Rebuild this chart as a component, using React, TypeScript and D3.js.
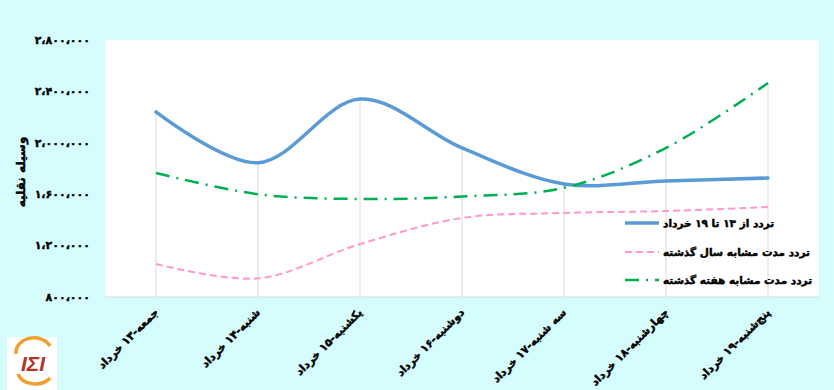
import * as d3 from 'd3';

// روزهای هفته (محور افقی)
const days = [
  'جمعه-۱۳ خرداد',
  'شنبه-۱۴ خرداد',
  'یکشنبه-۱۵ خرداد',
  'دوشنبه-۱۶ خرداد',
  'سه شنبه-۱۷ خرداد',
  'چهارشنبه-۱۸ خرداد',
  'پنج‌شنبه-۱۹ خرداد',
];

// تردد از ۱۳ تا ۱۹ خرداد
const thisWeek = [2240000, 1845000, 2340000, 1960000, 1680000, 1703000, 1726000];
// تردد مدت مشابه سال گذشته
const lastYear = [1057000, 945000, 1212000, 1415000, 1454000, 1469000, 1500000];
// تردد مدت مشابه هفته گذشته
const lastWeek = [1765000, 1600000, 1563000, 1582000, 1650000, 1960000, 2465000];

const yTicks = [800000, 1200000, 1600000, 2000000, 2400000, 2800000];

const seriesNames = [
  'تردد از  ۱۳ تا ۱۹ خرداد',
  'تردد مدت مشابه سال گذشته',
  'تردد مدت مشابه هفته گذشته',
];

const W = 834;
const H = 390;
const plot = { left: 105, right: 819, top: 40, bottom: 297 };

const faDigits = '۰۱۲۳۴۵۶۷۸۹';
const toFa = (v: number) =>
  d3.format(',')(v).replace(/\d/g, d => faDigits[+d]).replace(/,/g, '،');

export default function App() {
  const x = d3.scalePoint<string>()
    .domain(days)
    .range([plot.left, plot.right])
    .padding(0.5);

  const y = d3.scaleLinear()
    .domain([800000, 2800000])
    .range([plot.bottom, plot.top]);

  const line = d3.line<number>()
    .x((_, i) => x(days[i]) as number)
    .y(d => y(d))
    .curve(d3.curveCatmullRom.alpha(0.5));

  const series = [
    { data: thisWeek, color: '#5b9bd5', width: 3.5, dash: undefined as string | undefined },
    { data: lastYear, color: '#ff99cc', width: 2, dash: '7,4' },
    { data: lastWeek, color: '#00b050', width: 2.5, dash: '14,7,2,7' },
  ];

  // فونت فارسی، با کمی stroke برای ضخیم‌تر شدن
  const txt = {
    fontFamily: '"DejaVu Sans", sans-serif',
    fontWeight: 'bold' as const,
    fill: '#000',
    stroke: '#000',
    strokeWidth: 0.45,
  };

  return (
    <svg width={W} height={H} style={{ position: 'absolute', left: 0, top: 0 }}>
      <rect x={0} y={0} width={W} height={H} fill="#d6fdfe" />
      <rect x={plot.left} y={plot.top} width={plot.right - plot.left} height={plot.bottom - plot.top} fill="#ffffff" />

      {/* خطوط عمودی از بالاترین نقطه تا محور */}
      {days.map((d, i) => (
        <line key={d}
          x1={x(d)} x2={x(d)}
          y1={y(Math.max(thisWeek[i], lastYear[i], lastWeek[i]))} y2={plot.bottom}
          stroke="#d9d9d9" strokeWidth={1} />
      ))}
      <line x1={plot.left} x2={plot.right} y1={plot.bottom} y2={plot.bottom} stroke="#d9d9d9" />

      {/* محور عمودی */}
      {yTicks.map(t => (
        <text key={t} x={90} y={y(t)} dy="0.35em" textAnchor="end" fontSize={11} {...txt}>
          {toFa(t)}
        </text>
      ))}
      <text transform={`translate(25,172) rotate(-90)`} textAnchor="middle" fontSize={12} {...txt}>
        وسیله نقلیه
      </text>

      {/* برچسب‌های محور افقی */}
      {days.map(d => (
        <text key={d} transform={`translate(${(x(d) as number) + 3},${plot.bottom + 16}) rotate(-45)`}
          textAnchor="end" fontSize={11} {...txt}>
          {d}
        </text>
      ))}

      {/* سری‌ها */}
      {series.map((s, i) => (
        <path key={i} d={line(s.data) || ''} fill="none" stroke={s.color}
          strokeWidth={s.width} strokeDasharray={s.dash} strokeLinecap={s.dash ? 'butt' : 'round'} />
      ))}

      {/* راهنما */}
      {series.map((s, i) => {
        const ly = [223, 252, 280][i];
        return (
          <g key={i}>
            <line x1={625} x2={659} y1={ly} y2={ly} stroke={s.color}
              strokeWidth={s.width} strokeDasharray={s.dash} />
            <text x={663} y={ly} dy="0.35em" textAnchor="start" fontSize={10.5} {...txt}>
              {seriesNames[i]}
            </text>
          </g>
        );
      })}

      {/* لوگو */}
      <g>
        <rect x={7} y={337} width={50} height={53} fill="#ffffff" />
        <path d="M16,354 A18,15 0 0 1 50,346" fill="none" stroke="#f0a030" strokeWidth={3.5} />
        <path d="M18,374 A18,14 0 0 0 50,378" fill="none" stroke="#f0a030" strokeWidth={3.5} />
        <text x={33} y={371} textAnchor="middle" fontFamily="'Liberation Sans', sans-serif"
          fontStyle="italic" fontWeight="bold" fontSize={21} fill="#b5342a">ΙΣΙ</text>
      </g>
    </svg>
  );
}
